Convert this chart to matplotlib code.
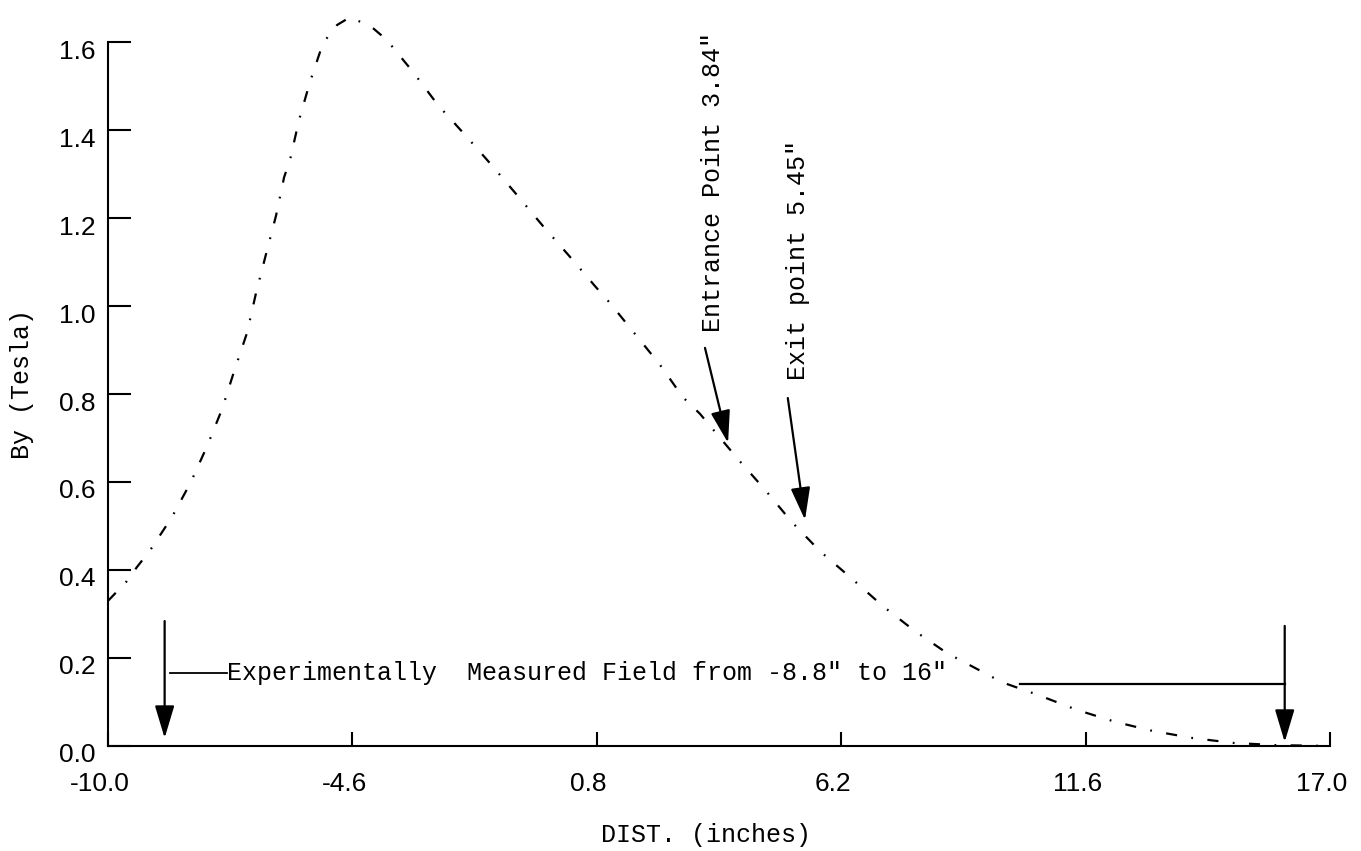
import matplotlib.pyplot as plt
from matplotlib.transforms import ScaledTranslation

# field profile
dist = [-10.0, -9.6, -9.36, -9.07, -8.59, -8.17, -7.81, -7.48, -7.22, -6.93,
        -6.73, -6.51, -6.29, -6.11, -5.98, -5.78, -5.54, -5.25, -4.94, -4.65,
        -4.17, -3.84, -3.26, -2.71, -2.11, -1.52, -0.96, -0.39, 0.19, 0.78,
        1.09, 2.20, 2.70, 3.08, 3.92, 4.52, 5.11, 5.73, 6.44, 7.12,
        7.83, 8.54, 9.33, 9.75, 10.55, 11.41, 12.25, 13.09, 13.97, 14.86,
        15.8, 17.0]
by_tesla = [0.33, 0.373, 0.407, 0.445, 0.52, 0.60, 0.682, 0.766, 0.85, 0.939,
            1.03, 1.118, 1.205, 1.293, 1.332, 1.423, 1.509, 1.598, 1.639, 1.657,
            1.634, 1.605, 1.532, 1.457, 1.389, 1.32, 1.252, 1.182, 1.114, 1.043,
            1.007, 0.866, 0.793, 0.755, 0.652, 0.582, 0.509, 0.443, 0.380, 0.318,
            0.261, 0.211, 0.168, 0.145, 0.116, 0.082, 0.055, 0.034, 0.018, 0.007,
            0.002, 0.0]

xticks = [-10.0, -4.6, 0.8, 6.2, 11.6, 17.0]
yticks = [0.0, 0.2, 0.4, 0.6, 0.8, 1.0, 1.2, 1.4, 1.6]

entrance_label = 'Entrance Point 3.84"'
exit_label = 'Exit point 5.45"'
range_label = 'Experimentally  Measured Field from -8.8" to 16"'

mono = dict(family=['Liberation Mono', 'DejaVu Sans Mono'], size=18, color='black')
sans = ['Liberation Sans', 'DejaVu Sans']

fig = plt.figure(figsize=(13.61, 8.51), dpi=100)
ax = fig.add_axes([0.0794, 0.1234, 0.8978, 0.8684])

ax.plot(dist, by_tesla, color='black', lw=1.6, dashes=(5, 6.5, 0.8, 6.5))

ax.set_xlim(-10, 17)
ax.set_ylim(0, 1.68)

for s in ['top', 'right']:
    ax.spines[s].set_visible(False)
for s in ['left', 'bottom']:
    ax.spines[s].set_linewidth(1.5)
ax.spines['left'].set_bounds(0, 1.6)

ax.set_xticks(xticks)
ax.set_xticklabels(['%.1f' % v for v in xticks], family=sans, fontsize=19)
ax.set_yticks(yticks)
ax.set_yticklabels(['%.1f' % v for v in yticks], family=sans, fontsize=19)
ax.tick_params(axis='x', direction='in', length=10, width=1.5, pad=19)
ax.tick_params(axis='y', direction='in', length=16.5, width=1.5, pad=9)

# labels in the original sit slightly off their ticks
yshift = ScaledTranslation(0, -5 / 72, fig.dpi_scale_trans)
for lab in ax.get_yticklabels():
    lab.set_transform(lab.get_transform() + yshift)
xshift = ScaledTranslation(-6 / 72, 0, fig.dpi_scale_trans)
for lab in ax.get_xticklabels():
    lab.set_transform(lab.get_transform() + xshift)

ax.set_xlabel('DIST. (inches)', va='center', **mono)
ax.xaxis.set_label_coords(0.489, -0.120)
ax.set_ylabel('By (Tesla)', va='center', **mono)
ax.yaxis.set_label_coords(-0.0704, 0.49)

arrow = dict(arrowstyle='-|>,head_length=1.0,head_width=0.3', mutation_scale=20,
             lw=1.6, color='black', shrinkA=0, shrinkB=0)

# entrance / exit markers
ax.annotate('', xy=(3.70, 0.689), xytext=(3.19, 0.905), arrowprops=arrow)
ax.text(3.37, 0.94, entrance_label, rotation=90, ha='center', va='bottom', **mono)
ax.annotate('', xy=(5.40, 0.514), xytext=(5.02, 0.791), arrowprops=arrow)
ax.text(5.25, 0.832, exit_label, rotation=90, ha='center', va='bottom', **mono)

# measured range
ax.annotate('', xy=(-8.75, 0.018), xytext=(-8.75, 0.284), arrowprops=arrow)
ax.plot([-8.63, -7.37], [0.166, 0.166], color='black', lw=1.3)
ax.text(-7.37, 0.166, range_label, ha='left', va='center', **mono)
ax.plot([10.15, 16.0], [0.141, 0.141], color='black', lw=1.6)
ax.annotate('', xy=(16.0, 0.009), xytext=(16.0, 0.273), arrowprops=arrow)

plt.savefig('out.png', dpi=100)
